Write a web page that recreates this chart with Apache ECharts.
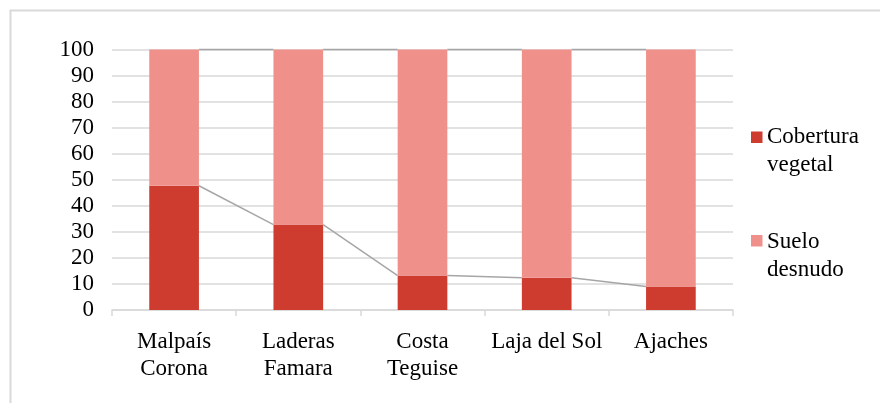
<!DOCTYPE html>
<html>
<head>
<meta charset="utf-8">
<script src="https://cdn.jsdelivr.net/npm/echarts@6/dist/echarts.min.js"></script>
<style>
  html, body { margin: 0; padding: 0; background: #fff; }
  #chart { width: 880px; height: 403px; }
</style>
</head>
<body>
<div id="chart"></div>
<script>
// Zonas de estudio y porcentaje de superficie
const categories = ['Malpaís\nCorona', 'Laderas\nFamara', 'Costa\nTeguise', 'Laja del Sol', 'Ajaches'];
const coberturaVegetal = [47.7, 32.8, 13.2, 12.4, 9.0];
const sueloDesnudo = [52.3, 67.2, 86.8, 87.6, 91.0];
const seriesNames = ['Cobertura vegetal', 'Suelo desnudo'];
const legendLabels = ['Cobertura\nvegetal', 'Suelo\ndesnudo'];

const COLOR_VEG = '#CE3B2F';
const COLOR_SUELO = '#F0908B';
const FONT = '"Liberation Serif", "Times New Roman", serif';
const FONT_SIZE = 23;
const BAR_RATIO = 0.4;

const chart = echarts.init(document.getElementById('chart'), null, { renderer: 'canvas' });

// Cumulative tops of each stack, used for the connector lines between bars
const stackTops = [
  coberturaVegetal.slice(),
  coberturaVegetal.map((v, i) => v + sueloDesnudo[i])
];

// Connector lines joining the top edge of each segment to the next bar
function seriesLinesItem(params, api) {
  const level = params.dataIndex;
  const tops = stackTops[level];
  const band = api.size([1, 0])[0];
  const half = band * BAR_RATIO / 2;
  const children = [];
  for (let i = 0; i < tops.length - 1; i++) {
    const a = api.coord([i, tops[i]]);
    const b = api.coord([i + 1, tops[i + 1]]);
    children.push({
      type: 'line',
      shape: { x1: a[0] + half, y1: a[1], x2: b[0] - half, y2: b[1] },
      style: { stroke: '#A6A6A6', lineWidth: 1.5 }
    });
  }
  return { type: 'group', children: children };
}

const option = {
  animation: false,
  backgroundColor: '#fff',
  textStyle: { fontFamily: FONT },
  grid: { left: 112, right: 147, top: 49.5, bottom: 93, containLabel: false },
  xAxis: {
    type: 'category',
    data: categories,
    boundaryGap: true,
    axisLine: { show: true, lineStyle: { color: '#D9D9D9', width: 1.5 } },
    axisTick: { show: true, length: 6, alignWithLabel: false, lineStyle: { color: '#D9D9D9', width: 1.5 } },
    axisLabel: {
      color: '#000', fontFamily: FONT, fontSize: FONT_SIZE, lineHeight: 27,
      margin: 18, interval: 0, align: 'center'
    },
    splitLine: { show: false }
  },
  yAxis: {
    type: 'value',
    min: 0, max: 100, interval: 10,
    axisLine: { show: false },
    axisTick: { show: false },
    axisLabel: { color: '#000', fontFamily: FONT, fontSize: FONT_SIZE, margin: 18 },
    splitLine: { show: true, lineStyle: { color: '#D9D9D9', width: 1.5 } }
  },
  series: [
    {
      name: seriesNames[0], type: 'bar', stack: 'total',
      data: coberturaVegetal, barWidth: (BAR_RATIO * 100) + '%',
      itemStyle: { color: COLOR_VEG }, z: 3
    },
    {
      name: seriesNames[1], type: 'bar', stack: 'total',
      data: sueloDesnudo, barWidth: (BAR_RATIO * 100) + '%',
      itemStyle: { color: COLOR_SUELO }, z: 3
    },
    {
      type: 'custom',
      data: [0, 1],
      renderItem: seriesLinesItem,
      z: 4,
      silent: true
    }
  ],
  graphic: [
    // chart frame
    {
      type: 'rect', left: 8, top: 8, z: 0,
      shape: { x: 0, y: 0, width: 900, height: 420 },
      style: { fill: 'none', stroke: '#D9D9D9', lineWidth: 2 }
    },
    // legend
    {
      type: 'rect', left: 751, top: 131.5, z: 10,
      shape: { width: 11.5, height: 11.5 },
      style: { fill: COLOR_VEG }
    },
    {
      type: 'text', left: 767, top: 122.5, z: 10,
      style: { text: legendLabels[0], fill: '#000', font: FONT_SIZE + 'px ' + FONT, lineHeight: 28.5 }
    },
    {
      type: 'rect', left: 751, top: 235, z: 10,
      shape: { width: 11.5, height: 11.5 },
      style: { fill: COLOR_SUELO }
    },
    {
      type: 'text', left: 767, top: 227.5, z: 10,
      style: { text: legendLabels[1], fill: '#000', font: FONT_SIZE + 'px ' + FONT, lineHeight: 28.5 }
    }
  ]
};

chart.setOption(option);
</script>
</body>
</html>
